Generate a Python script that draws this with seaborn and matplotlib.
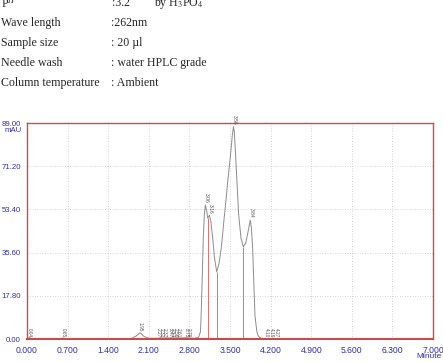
import matplotlib
matplotlib.use("Agg")
import matplotlib.pyplot as plt
import numpy as np
import pandas as pd
import seaborn as sns

# ---------------- data ----------------
time_min = [0.00, 0.04, 0.08, 0.58, 0.62, 0.66, 1.80, 1.88, 1.95, 2.02, 2.10,
            2.25, 2.30, 2.35, 2.40, 2.45, 2.50, 2.55, 2.60, 2.65, 2.75, 2.80,
            2.90, 2.96, 2.99, 3.00, 3.02, 3.04, 3.06, 3.076, 3.10, 3.115, 3.145,
            3.17, 3.20, 3.23, 3.27, 3.31, 3.35, 3.40, 3.43, 3.46, 3.49, 3.52,
            3.54, 3.56, 3.575, 3.59, 3.62, 3.65, 3.69, 3.73, 3.77, 3.80, 3.85,
            3.87, 3.89, 3.91, 3.93, 3.96, 3.98, 4.01, 4.04, 4.10, 4.20, 4.30,
            4.50, 7.00]
signal_mau = [0.3, 0.5, 0.2, 0.2, 0.4, 0.2, 0.2, 1.2, 2.6, 1.0, 0.3,
              0.3, 0.5, 0.4, 0.5, 0.4, 0.5, 0.4, 0.5, 0.4, 0.5, 0.4,
              0.3, 0.8, 3.0, 8.0, 24.0, 42.0, 52.0, 55.2, 52.5, 49.8, 51.0,
              48.5, 42.0, 34.0, 27.7, 31.0, 37.5, 50.0, 57.0, 64.8, 71.5, 78.7,
              84.0, 87.5, 85.0, 78.7, 64.8, 51.0, 41.5, 38.0, 39.5, 42.8, 49.0,
              45.5, 37.5, 23.6, 9.9, 3.5, 1.6, 0.6, 0.3, 0.2, 0.2, 0.2,
              0.1, 0.1]

# integration drop lines (time, height)
drop_times = [3.115, 3.27, 3.73]
drop_heights = [49.8, 27.7, 38.0]

# peak labels
peak_label_times = [3.076, 3.145, 3.56, 3.85]
peak_label_heights = [55.2, 51.0, 87.5, 49.0]
peak_label_texts = ["3.06", "3.16", "3.56", "3.84"]

base_label_times = [0.04, 0.62, 1.95, 2.27, 2.32, 2.37, 2.47, 2.51, 2.56,
                    2.61, 2.75, 2.78, 4.13, 4.21, 4.30]
base_label_texts = ["0.04", "0.65", "1.95", "2.27", "2.32", "2.37", "2.47",
                    "2.51", "2.56", "2.61", "2.75", "2.79", "4.10", "4.19",
                    "4.27"]

x_ticks = [0.0, 0.7, 1.4, 2.1, 2.8, 3.5, 4.2, 4.9, 5.6, 6.3, 7.0]
x_tick_labels = ["0.000", "0.700", "1.400", "2.100", "2.800", "3.500",
                 "4.200", "4.900", "5.600", "6.300", "7.000"]
y_ticks = [0.0, 17.8, 35.6, 53.4, 71.2, 89.0]
y_tick_labels = ["0.00", "17.80", "35.60", "53.40", "71.20", "89.00"]

header_labels = ["Wave length", "Sample size", "Needle wash",
                 "Column temperature"]
header_values = [":262nm", ": 20 \u00b5l", ": water HPLC grade", ": Ambient"]

# ---------------- figure ----------------
sns.set_style("white")
plt.rcParams["font.family"] = ["Liberation Sans", "DejaVu Sans"]
plt.rcParams["mathtext.fontset"] = "stix"

W, H = 443, 362
fig = plt.figure(figsize=(W / 100, H / 100), dpi=100)
fig.patch.set_facecolor("white")

def fx(px):
    return px / W

def fy(py):
    return 1 - py / H

L, R, T, B = 27, 433, 123, 339
ax = fig.add_axes([fx(L), fy(B), (R - L) / W, (B - T) / H])

red = "#cc4a4a"
blue = "#3030a8"

df = pd.DataFrame({"Minute": time_min, "mAU": signal_mau})
sns.lineplot(data=df, x="Minute", y="mAU", ax=ax, color="#8c8c8c",
             linewidth=0.7, estimator=None, sort=False)

ax.vlines(drop_times, 0, drop_heights, colors="#e07070", linewidth=0.7)

ax.set_xlim(0, 7)
ax.set_ylim(0, 89)
ax.set_xlabel("")
ax.set_ylabel("")

ax.set_xticks(x_ticks)
ax.set_xticklabels(x_tick_labels)
ax.set_yticks(y_ticks)
ax.set_yticklabels(y_tick_labels)
ax.set_xticks(np.arange(0, 7.0001, 0.14), minor=True)
ax.set_yticks(np.arange(0, 89.001, 3.56), minor=True)

ax.tick_params(axis="x", which="major", direction="out", length=3.5,
               width=0.9, color=red, labelsize=6.2, labelcolor=blue, pad=1.8)
ax.tick_params(axis="y", which="major", direction="out", length=3.5,
               width=0.9, color=red, labelsize=5.6, labelcolor=blue, pad=1.0)
ax.tick_params(axis="both", which="minor", direction="out", length=2.5,
               width=0.8, color=red)

for s in ax.spines.values():
    s.set_color(red)
    s.set_linewidth(1.0)
ax.spines["bottom"].set_linewidth(1.5)

ax.grid(True, which="major", color="#c8c8c8", linestyle=(0, (1, 2)),
        linewidth=0.6)
ax.set_axisbelow(True)

for t, h, s in zip(peak_label_times, peak_label_heights, peak_label_texts):
    ax.text(t + 0.01, h + 0.8, s, rotation=270, rotation_mode="anchor",
            ha="right", va="center", fontsize=3.6, color="#555555")

for t, s in zip(base_label_times, base_label_texts):
    yb = 0.8 if s != "1.95" else 3.2
    ax.text(t, yb, s, rotation=270, rotation_mode="anchor",
            ha="right", va="center", fontsize=3.4, color="#555555")

fig.text(fx(13), fy(131), "mAU", ha="center", va="center", fontsize=5.6,
         color=blue)
fig.text(fx(429), fy(357), "Minute", ha="center", va="center", fontsize=6.0,
         color=blue)

# ---------------- header text ----------------
serif = ["Liberation Serif", "DejaVu Serif"]
fs = 8.6
fig.text(fx(1), fy(3), r"P$^{H}$", ha="left", va="center", fontsize=fs,
         family=serif)
fig.text(fx(112), fy(3), ":3.2", ha="left", va="center", fontsize=fs,
         family=serif)
fig.text(fx(154), fy(3), r"by H$_3$PO$_4$", ha="left", va="center",
         fontsize=fs, family=serif)
for i, (lab, val) in enumerate(zip(header_labels, header_values)):
    y = 23 + i * 20
    fig.text(fx(1), fy(y), lab, ha="left", va="center", fontsize=fs,
             family=serif)
    fig.text(fx(111), fy(y), val, ha="left", va="center", fontsize=fs,
             family=serif)

fig.savefig("out.png", dpi=100, facecolor="white")
